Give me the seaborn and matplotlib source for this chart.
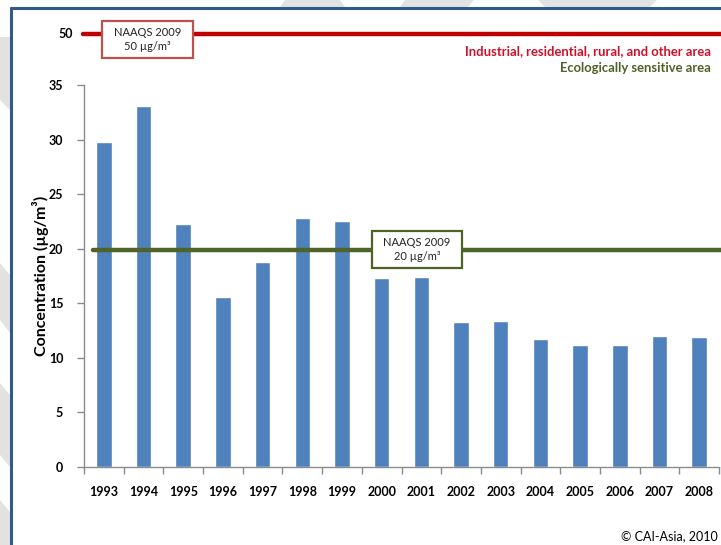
import matplotlib
matplotlib.use("Agg")
import matplotlib.pyplot as plt
from matplotlib.patches import Rectangle, Polygon
import seaborn as sns
import pandas as pd

years = ["1993", "1994", "1995", "1996", "1997", "1998", "1999", "2000",
         "2001", "2002", "2003", "2004", "2005", "2006", "2007", "2008"]
concentration = [29.8, 33.1, 22.3, 15.6, 18.8, 22.8, 22.5, 17.3,
                 17.4, 13.3, 13.4, 11.7, 11.2, 11.2, 12.0, 11.9]
yticks = [0, 5, 10, 15, 20, 25, 30, 35]
standard_eco = 20
standard_ind = 50
label_ind = "Industrial, residential, rural, and other area"
label_eco = "Ecologically sensitive area"

sns.set_theme(style="white")
plt.rcParams['font.family'] = ['Lato', 'DejaVu Sans']

W, H = 721, 545
fig = plt.figure(figsize=(W / 100, H / 100), dpi=100)
fig.patch.set_facecolor("white")

def fx(px):
    return px / W

def fy(py):
    return 1 - py / H

# decorative grey background bands outside the frame
grey = "#E2E2E2"
for poly in [
    [(285, 0), (340, 0), (345, 7), (280, 7)],
    [(405, 0), (474, 0), (468, 7), (400, 7)],
    [(538, 0), (657, 0), (650, 7), (545, 7)],
    [(0, 37), (10, 37), (10, 110), (0, 100)],
    [(0, 263), (10, 275), (10, 333), (0, 320)],
    [(0, 383), (10, 395), (10, 467), (0, 455)],
    [(0, 500), (10, 512), (10, 545), (0, 545)],
]:
    fig.patches.append(Polygon([(fx(x), fy(y)) for x, y in poly], closed=True,
                               transform=fig.transFigure, facecolor=grey,
                               edgecolor="none", zorder=0))

# blue frame
frame_col = "#2E5A8C"
fig.lines.append(matplotlib.lines.Line2D([fx(11), fx(11)], [fy(8), fy(545)],
                 transform=fig.transFigure, color=frame_col, lw=2.2))
fig.lines.append(matplotlib.lines.Line2D([fx(11), fx(721)], [fy(8), fy(8)],
                 transform=fig.transFigure, color=frame_col, lw=2.2))

ax_left, ax_right = 84, 719
ax_bottom, ax_top = 467, 0
ax = fig.add_axes([fx(ax_left), fy(ax_bottom), (ax_right - ax_left) / W,
                   (ax_bottom - ax_top) / H])
ax.set_facecolor("none")

df = pd.DataFrame({"year": years, "value": concentration})
sns.barplot(data=df, x="year", y="value", color="#4F81BD", saturation=1,
            width=0.39, ax=ax, zorder=2)

px_per_unit = (467 - 85) / 35.0
ax.set_ylim(0, 467 / px_per_unit)
ax.set_xlim(-0.5, len(years) - 0.5)

for s in ["top", "right"]:
    ax.spines[s].set_visible(False)
for s in ["left", "bottom"]:
    ax.spines[s].set_color("#8C8C8C")
    ax.spines[s].set_linewidth(1.0)
ax.spines["left"].set_bounds(0, 35)

ax.set_yticks(yticks)
ax.set_yticklabels([str(t) for t in yticks], fontsize=9, fontweight="bold",
                   color="black")
ax.tick_params(axis="y", direction="out", length=5, width=1, color="#8C8C8C",
               left=True, pad=10)
ax.set_xticks(range(len(years)))
ax.set_xticklabels(years, fontsize=9, fontweight="bold", color="black")
ax.set_xticks([i - 0.5 for i in range(len(years) + 1)], minor=True)
ax.tick_params(axis="x", which="major", length=0, pad=14)
ax.tick_params(axis="x", which="minor", direction="out", length=5, width=1,
               color="#8C8C8C", bottom=True)
ax.set_xlabel("")
ax.set_ylabel("")

# standard lines
y_ind = (467 - 34.3) / px_per_unit
y_eco = (467 - 250) / px_per_unit
axw = ax_right - ax_left
ax.axhline(y_ind, xmin=(83 - ax_left) / axw, xmax=(721 - ax_left) / axw,
           color="#C00000", lw=3.2, clip_on=False, zorder=3)
ax.axhline(y_eco, xmin=(93 - ax_left) / axw, xmax=(721 - ax_left) / axw,
           color="#4F6228", lw=3.2, clip_on=False, zorder=3)

# "50" label for broken axis
fig.text(fx(73), fy(34), str(standard_ind), ha="right", va="center",
         fontsize=9, fontweight="bold", color="black")

# annotation boxes
def std_box(x0, y0, x1, y1, edge, value):
    fig.patches.append(Rectangle((fx(x0), fy(y1)), (x1 - x0) / W, (y1 - y0) / H,
                                 transform=fig.transFigure, facecolor="white",
                                 edgecolor=edge, lw=1.6, zorder=5))
    fig.text(fx((x0 + x1) / 2), fy((y0 + y1) / 2), f"NAAQS 2009\n{value} µg/m³",
             ha="center", va="center", fontsize=8, color="#222222",
             linespacing=1.3, zorder=6)

std_box(102, 21, 193, 58, "#C0504D", standard_ind)
std_box(372, 231, 462, 268, "#4F6228", standard_eco)

# legend-like texts
fig.text(fx(711), fy(51), label_ind, ha="right", va="center", fontsize=9.4,
         fontweight="bold", color="#D0102A")
fig.text(fx(711), fy(68), label_eco, ha="right", va="center", fontsize=9.4,
         fontweight="bold", color="#4F6228")

# y-axis title
fig.text(fx(41), fy(276), "Concentration (µg/m³)", rotation=90, ha="center",
         va="center", fontsize=11.5, fontweight="bold", color="black")

# copyright
fig.text(fx(718), fy(536), "© CAI-Asia, 2010", ha="right", va="center",
         fontsize=9, color="black")

fig.savefig("out.png", dpi=100, facecolor="white")
